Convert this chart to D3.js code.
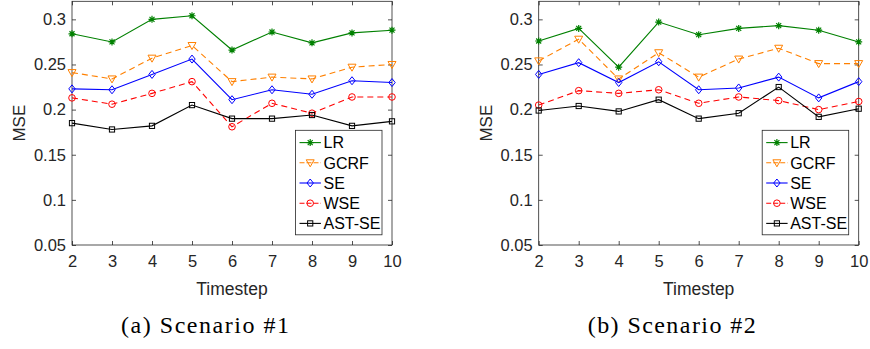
<!DOCTYPE html>
<html>
<head>
<meta charset="utf-8">
<script src="https://cdn.jsdelivr.net/npm/d3@7"></script>
<style>
  body { margin: 0; background: #fff; }
  svg { display: block; }
  text { font-family: "Liberation Sans", Arial, sans-serif; }
</style>
</head>
<body>
<script>
// data
var timesteps = [2, 3, 4, 5, 6, 7, 8, 9, 10];
var methods = ["LR", "GCRF", "SE", "WSE", "AST-SE"];
var yTicks = [0.05, 0.1, 0.15, 0.2, 0.25, 0.3];
var captions = ["(a) Scenario #1", "(b) Scenario #2"];

// scenario #1
var lr1   = [0.284, 0.275, 0.300, 0.304, 0.266, 0.286, 0.274, 0.285, 0.288];
var gcrf1 = [0.241, 0.234, 0.257, 0.271, 0.231, 0.236, 0.234, 0.247, 0.250];
var se1   = [0.223, 0.222, 0.239, 0.256, 0.211, 0.222, 0.217, 0.232, 0.230];
var wse1  = [0.213, 0.206, 0.218, 0.231, 0.181, 0.207, 0.196, 0.214, 0.214];
var ast1  = [0.185, 0.178, 0.182, 0.205, 0.190, 0.190, 0.194, 0.182, 0.187];

// scenario #2
var lr2   = [0.276, 0.290, 0.247, 0.297, 0.283, 0.290, 0.293, 0.288, 0.275];
var gcrf2 = [0.254, 0.278, 0.234, 0.263, 0.236, 0.256, 0.268, 0.251, 0.251];
var se2   = [0.239, 0.252, 0.230, 0.253, 0.222, 0.224, 0.236, 0.213, 0.231];
var wse2  = [0.205, 0.221, 0.218, 0.222, 0.207, 0.214, 0.210, 0.200, 0.209];
var ast2  = [0.199, 0.204, 0.198, 0.211, 0.190, 0.196, 0.225, 0.192, 0.201];

var w = 870, h = 349;
var axisColor = "#262626";

// line styles per method
var styles = {
    "LR":     { color: "#008000", dash: null,  marker: "star" },
    "GCRF":   { color: "#ff8000", dash: "6,4", marker: "tri" },
    "SE":     { color: "#0000ff", dash: null,  marker: "diamond" },
    "WSE":    { color: "#ff0000", dash: "6,4", marker: "circle" },
    "AST-SE": { color: "#000000", dash: null,  marker: "square" }
};

var svg = d3.select("body").append("svg")
    .attr("width", w)
    .attr("height", h);

function drawMarker(g, type, cx, cy, color) {
    if (type === "circle") {
        g.append("circle").attr("cx", cx).attr("cy", cy).attr("r", 3.3)
            .attr("fill", "none").attr("stroke", color).attr("stroke-width", 1);
    } else if (type === "square") {
        g.append("rect").attr("x", cx - 2.6).attr("y", cy - 2.6)
            .attr("width", 5.2).attr("height", 5.2)
            .attr("fill", "none").attr("stroke", color).attr("stroke-width", 1);
    } else if (type === "diamond") {
        g.append("path")
            .attr("d", "M" + cx + "," + (cy - 4) + "L" + (cx + 3.2) + "," + cy +
                "L" + cx + "," + (cy + 4) + "L" + (cx - 3.2) + "," + cy + "Z")
            .attr("fill", "none").attr("stroke", color).attr("stroke-width", 1);
    } else if (type === "tri") {
        g.append("path")
            .attr("d", "M" + (cx - 4) + "," + (cy - 3) + "L" + (cx + 4) + "," + (cy - 3) +
                "L" + cx + "," + (cy + 4) + "Z")
            .attr("fill", "none").attr("stroke", color).attr("stroke-width", 1);
    } else if (type === "star") {
        var r = 3.5, d = 2.5;
        g.append("path")
            .attr("d", "M" + (cx - r) + "," + cy + "L" + (cx + r) + "," + cy +
                "M" + cx + "," + (cy - r) + "L" + cx + "," + (cy + r) +
                "M" + (cx - d) + "," + (cy - d) + "L" + (cx + d) + "," + (cy + d) +
                "M" + (cx - d) + "," + (cy + d) + "L" + (cx + d) + "," + (cy - d))
            .attr("fill", "none").attr("stroke", color).attr("stroke-width", 1.2);
    }
}

function createPlot(left, series, caption) {
    var plotW = 320, top = 1.3, bottom = 245;

    var x = d3.scaleLinear().domain([2, 10]).range([left, left + plotW]);
    var y = d3.scaleLinear().domain([0.05, 0.32]).range([bottom, top]);

    var g = svg.append("g");

    // axes box
    g.append("rect")
        .attr("x", left).attr("y", top)
        .attr("width", plotW).attr("height", bottom - top)
        .attr("fill", "none").attr("stroke", axisColor).attr("stroke-width", 0.8);

    // ticks (inside, on all four sides)
    var xAxis = d3.axisBottom(x).tickValues(timesteps).tickSize(-4).tickPadding(10)
        .tickFormat(d3.format("d"));
    var gx = g.append("g").attr("transform", "translate(0," + bottom + ")").call(xAxis);
    var xTop = d3.axisTop(x).tickValues(timesteps).tickSize(-4).tickFormat("");
    var gxt = g.append("g").attr("transform", "translate(0," + top + ")").call(xTop);

    var yAxis = d3.axisLeft(y).tickValues(yTicks).tickSize(-4).tickPadding(6)
        .tickFormat(d => d3.format("")(+d.toFixed(2)));
    var gy = g.append("g").attr("transform", "translate(" + left + ",0)").call(yAxis);
    var yRight = d3.axisRight(y).tickValues(yTicks).tickSize(-4).tickFormat("");
    var gyr = g.append("g").attr("transform", "translate(" + (left + plotW) + ",0)").call(yRight);

    [gx, gxt, gy, gyr].forEach(function (a) {
        a.select(".domain").remove();
        a.selectAll("line").attr("stroke", axisColor).attr("stroke-width", 0.8);
        a.selectAll("text").attr("fill", axisColor).attr("font-size", "16.5px")
            .style("font-family", "'Liberation Sans', Arial, sans-serif");
    });

    // axis labels
    g.append("text")
        .attr("x", left + plotW / 2).attr("y", 294.5)
        .attr("text-anchor", "middle")
        .attr("font-size", "17.5px").attr("fill", axisColor)
        .text("Timestep");

    g.append("text")
        .attr("transform", "translate(" + (left - 47) + "," + (y(0.185)) + ") rotate(-90)")
        .attr("text-anchor", "middle")
        .attr("font-size", "17px").attr("fill", axisColor)
        .text("MSE");

    // lines + markers
    var line = d3.line().x((d, i) => x(timesteps[i])).y(d => y(d));
    methods.forEach(function (m, k) {
        var st = styles[m];
        var vals = series[k];
        g.append("path")
            .datum(vals)
            .attr("d", line)
            .attr("fill", "none")
            .attr("stroke", st.color)
            .attr("stroke-width", 1.1)
            .attr("stroke-dasharray", st.dash);
        var mg = g.append("g");
        vals.forEach(function (v, i) {
            drawMarker(mg, st.marker, x(timesteps[i]), y(v), st.color);
        });
    });

    // legend
    var lx = left + plotW - 96.5, ly = 130.3, lw = 86.5, lh = 104.5;
    var lg = g.append("g");
    lg.append("rect")
        .attr("x", lx).attr("y", ly).attr("width", lw).attr("height", lh)
        .attr("fill", "#fff").attr("stroke", axisColor).attr("stroke-width", 0.8);
    methods.forEach(function (m, k) {
        var st = styles[m];
        var cy = ly + 12.3 + k * 20.2;
        lg.append("line")
            .attr("x1", lx + 4).attr("x2", lx + 25.4)
            .attr("y1", cy).attr("y2", cy)
            .attr("stroke", st.color).attr("stroke-width", 1.1)
            .attr("stroke-dasharray", st.dash ? "5,2" : null);
        drawMarker(lg, st.marker, lx + 14.7, cy, st.color);
        lg.append("text")
            .attr("x", lx + 28).attr("y", cy + 5.8)
            .attr("font-size", "16px").attr("fill", "#000")
            .text(m);
    });

    // caption
    svg.append("text")
        .attr("x", left + plotW / 2 - 27).attr("y", 333)
        .attr("text-anchor", "middle")
        .attr("font-size", "24px")
        .attr("textLength", 168).attr("lengthAdjust", "spacing")
        .style("font-family", "'Liberation Serif', 'Times New Roman', serif")
        .attr("fill", "#000")
        .text(caption);
}

createPlot(72, [lr1, gcrf1, se1, wse1, ast1], captions[0]);
createPlot(538.7, [lr2, gcrf2, se2, wse2, ast2], captions[1]);
</script>
</body>
</html>
